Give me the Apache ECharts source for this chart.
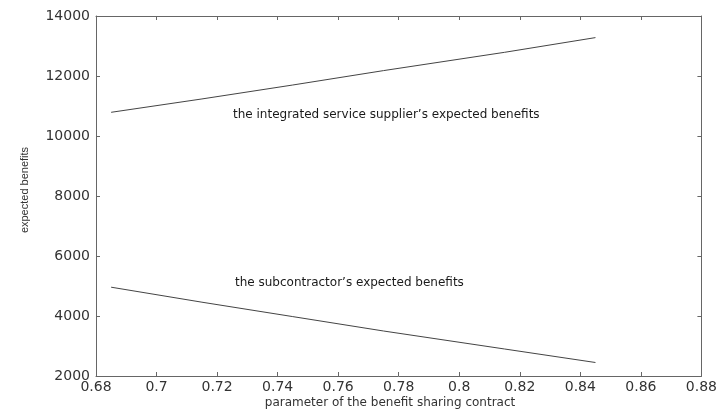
<!DOCTYPE html>
<html><head><meta charset="utf-8">
<script src="https://cdn.jsdelivr.net/npm/echarts@6/dist/echarts.min.js"></script>
<style>html,body{margin:0;padding:0;background:#fff}#c{width:720px;height:412px}</style>
</head><body><div id="c"></div>
<script>
const xTicks = [0.68,0.70,0.72,0.74,0.76,0.78,0.80,0.82,0.84,0.86,0.88];
const yTicks = [2000,4000,6000,8000,10000,12000,14000];
const supplierX = [0.685,0.715,0.745,0.775,0.815,0.845];
const supplierY = [10790,11235,11700,12180,12790,13280];
const subX = [0.685,0.715,0.745,0.775,0.815,0.845];
const subY = [4960,4460,3980,3500,2900,2450];
const supplierLabel = "the integrated service supplier\u2019s expected benefits";
const subLabel = "the subcontractor\u2019s expected benefits";
const xName = "parameter of the benefit sharing contract";
const yName = "expected benefits";

const chart = echarts.init(document.getElementById('c'));
const wfont = '"DejaVu Sans", sans-serif';
const nfont = '"Liberation Sans", Arial, sans-serif';
const axisCommon = {
  axisLine:{show:true,lineStyle:{color:'#666',width:1}},
  axisTick:{show:true,inside:true,length:4,lineStyle:{color:'#666'}},
  splitLine:{show:false}
};
chart.setOption({
  animation:false,
  backgroundColor:'#fff',
  grid:{left:96,right:16,top:16,bottom:36,show:false},
  xAxis:[
    Object.assign({type:'value',min:0.68,max:0.88,interval:0.02,position:'bottom',
      axisLabel:{color:'#333',fontSize:14,fontFamily:wfont,margin:4,
        formatter:v=>{const t=xTicks.find(a=>Math.abs(a-v)<1e-9);return t===undefined?'':String(+t.toFixed(2));}}},axisCommon),
    Object.assign({type:'value',min:0.68,max:0.88,interval:0.02,position:'top',axisLabel:{show:false}},axisCommon)
  ],
  yAxis:[
    Object.assign({type:'value',min:2000,max:14000,interval:2000,position:'left',
      axisLabel:{color:'#333',fontSize:14,fontFamily:wfont,margin:6,
        formatter:v=>yTicks.includes(v)?String(v):''}},axisCommon),
    Object.assign({type:'value',min:2000,max:14000,interval:2000,position:'right',axisLabel:{show:false}},axisCommon)
  ],
  series:[
    {type:'line',data:supplierX.map((x,i)=>[x,supplierY[i]]),showSymbol:false,
      lineStyle:{color:'#444',width:1}},
    {type:'line',data:subX.map((x,i)=>[x,subY[i]]),showSymbol:false,
      lineStyle:{color:'#444',width:1}}
  ],
  graphic:[
    {type:'text',x:233,y:115,style:{text:supplierLabel,fill:'#1a1a1a',font:'12px '+wfont,verticalAlign:'middle'}},
    {type:'text',x:235,y:283,style:{text:subLabel,fill:'#1a1a1a',font:'12px '+wfont,verticalAlign:'middle'}},
    {type:'text',x:390,y:403,style:{text:xName,fill:'#333',font:'12px '+wfont,align:'center',verticalAlign:'middle'}},
    {type:'text',x:25,y:190,rotation:Math.PI/2,style:{text:yName,fill:'#333',font:'11px '+nfont,align:'center',verticalAlign:'middle'}}
  ]
});
</script></body></html>
